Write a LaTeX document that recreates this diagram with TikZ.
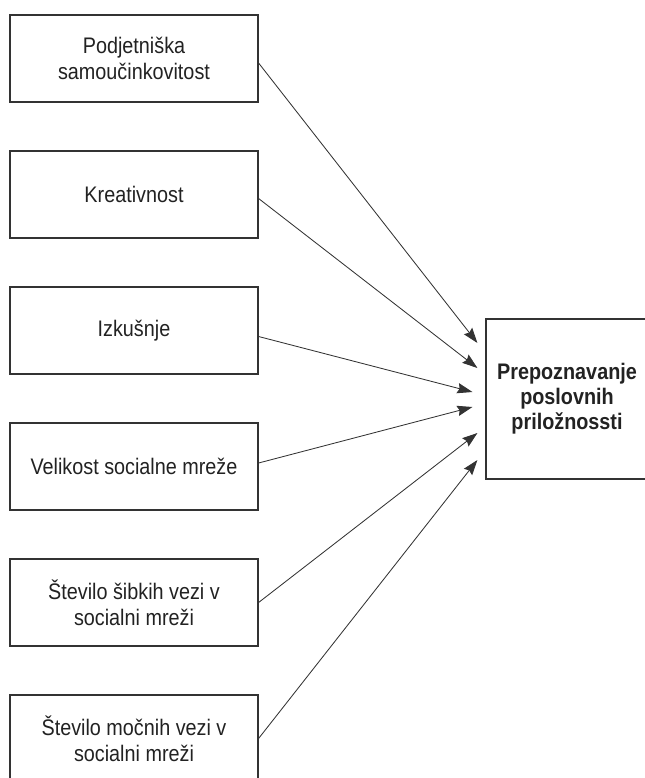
\documentclass[tikz,border=0pt]{standalone}
\usepackage{fontspec}
\setmainfont{Liberation Sans}[FakeStretch=0.88]
\usetikzlibrary{arrows.meta, positioning, calc}
\definecolor{boxgray}{HTML}{333333}
\definecolor{textgray}{HTML}{222222}

\begin{document}
\begin{tikzpicture}[
    x=0.025cm, y=-0.025cm,
    >=Stealth,
    factor/.style={draw=boxgray, line width=0.8pt, minimum width=6.2cm, minimum height=2.175cm, align=center, text=textgray, font=\fontsize{16}{18.4}\selectfont},
    outcome/.style={factor, minimum width=4.05cm, minimum height=4cm, font=\fontsize{16}{17.7}\selectfont\bfseries},
    arrow/.style={-{Stealth[length=0.38cm, width=0.26cm, inset=0.05cm]}, line width=0.6pt, color=boxgray},
]
\useasboundingbox (0,0) rectangle (645,778);
\clip (0,0) rectangle (645,778);

% Predictor boxes
\node[factor] (selfeff) at (134,58.5) {Podjetniška\\samoučinkovitost};
\node[factor] (creat) at (134,194.5) {Kreativnost};
\node[factor] (exper) at (134,330.5) {Izkušnje};
\node[factor] (netsize) at (134,466.5) {Velikost socialne mreže};
\node[factor] (weakties) at (134,602.5) {Število šibkih vezi v\\socialni mreži};
\node[factor] (strongties) at (134,738.5) {Število močnih vezi v\\socialni mreži};

% Outcome box
\node[outcome] (recog) at (567,399) {Prepoznavanje\\poslovnih\\priložnossti};

% Arrows into outcome
\draw[arrow] ($(selfeff.east)+(0,4.5)$) -- ($(recog.west)+(-8,-56)$);
\draw[arrow] ($(creat.east)+(0,4)$) -- ($(recog.west)+(-8,-31)$);
\draw[arrow] ($(exper.east)+(0,6)$) -- ($(recog.west)+(-13,-7)$);
\draw[arrow] ($(netsize.east)+(0,-3.5)$) -- ($(recog.west)+(-13,8)$);
\draw[arrow] (weakties.east) -- ($(recog.west)+(-8,34)$);
\draw[arrow] (strongties.east) -- ($(recog.west)+(-8,61)$);

\end{tikzpicture}
\end{document}
